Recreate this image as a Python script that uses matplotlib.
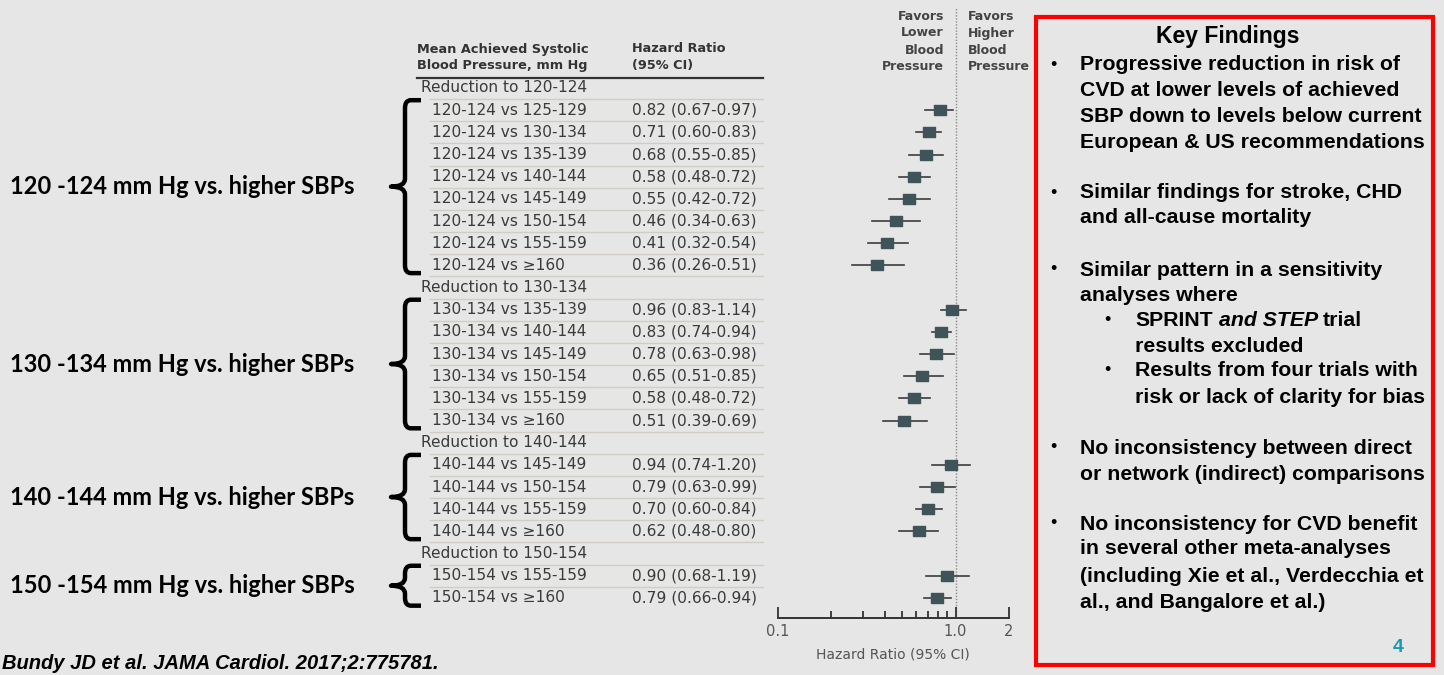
import matplotlib
matplotlib.use('Agg')
import matplotlib.pyplot as plt
import matplotlib.transforms as mtransforms
from matplotlib.lines import Line2D
from matplotlib.path import Path
from matplotlib.patches import PathPatch, Rectangle

# data
groups = ["120-124", "130-134", "140-144", "150-154"]
group_labels = ["120 -124 mm Hg vs. higher SBPs", "130 -134 mm Hg vs. higher SBPs",
                "140 -144 mm Hg vs. higher SBPs", "150 -154 mm Hg vs. higher SBPs"]
comparators = [
    ["125-129", "130-134", "135-139", "140-144", "145-149", "150-154", "155-159", "≥160"],
    ["135-139", "140-144", "145-149", "150-154", "155-159", "≥160"],
    ["145-149", "150-154", "155-159", "≥160"],
    ["155-159", "≥160"],
]
hr = [[0.82, 0.71, 0.68, 0.58, 0.55, 0.46, 0.41, 0.36],
      [0.96, 0.83, 0.78, 0.65, 0.58, 0.51],
      [0.94, 0.79, 0.70, 0.62],
      [0.90, 0.79]]
lo = [[0.67, 0.60, 0.55, 0.48, 0.42, 0.34, 0.32, 0.26],
      [0.83, 0.74, 0.63, 0.51, 0.48, 0.39],
      [0.74, 0.63, 0.60, 0.48],
      [0.68, 0.66]]
hi = [[0.97, 0.83, 0.85, 0.72, 0.72, 0.63, 0.54, 0.51],
      [1.14, 0.94, 0.98, 0.85, 0.72, 0.69],
      [1.20, 0.99, 0.84, 0.80],
      [1.19, 0.94]]
xticks = [0.1, 1.0, 2]
xticklabels = ["0.1", "1.0", "2"]

favors_left = ["Favors", "Lower", "Blood", "Pressure"]
favors_right = ["Favors", "Higher", "Blood", "Pressure"]

key_title = "Key Findings"
bullets = [
    ["Progressive reduction in risk of", "CVD at lower levels of achieved",
     "SBP down to levels below current", "European & US recommendations"],
    ["Similar findings for stroke, CHD", "and all-cause mortality"],
    ["Similar pattern in a sensitivity", "analyses where"],
    ["No inconsistency between direct", "or network (indirect) comparisons"],
    ["No inconsistency for CVD benefit", "in several other meta-analyses",
     "(including Xie et al., Verdecchia et", "al., and Bangalore et al.)"],
]
bullet_y = [[65, 90, 116, 142], [193, 218], [270, 295], [448, 474], [524, 549, 576, 602]]
sub_bullets = [["SPRINT  and STEP trial", "results excluded"],
               ["Results from four trials with", "risk or lack of clarity for bias"]]
sub_y = [[321, 346], [371, 397]]
citation = "Bundy JD et al. JAMA Cardiol. 2017;2:775781."

W, H = 1444, 675
BG = '#e6e6e6'
fig = plt.figure(figsize=(W / 100, H / 100), dpi=100, facecolor=BG)


def fx(p):
    return p / W


def fy(p):
    return 1 - p / H


ROW0, ROWH = 88, 22.17
ax = fig.add_axes([fx(778), fy(618), fx(1009) - fx(778), (618 - 8) / H])
ax.set_facecolor('none')
ax.set_xscale('log')
ax.set_xlim(0.1, 2)
ax.set_ylim((618 - ROW0) / ROWH, (8 - ROW0) / ROWH)
tr = mtransforms.blended_transform_factory(fig.transFigure, ax.transData)

tab_font = ['DejaVu Sans']
txt_col = '#3a3a3a'
tfs = 11.1

# build the table rows
rows = []
for gi, g in enumerate(groups):
    rows.append(('head', 'Reduction to ' + g, None, None, None))
    for j, c in enumerate(comparators[gi]):
        rows.append(('row', f'{g} vs {c}', hr[gi][j], lo[gi][j], hi[gi][j]))

box = Path([(-1, -0.75), (1, -0.75), (1, 0.75), (-1, 0.75), (-1, -0.75)])
for i, (kind, label, h, l, u) in enumerate(rows):
    if kind == 'head':
        fig.text(fx(421), i, label, transform=tr, va='center', ha='left',
                 fontsize=tfs, family=tab_font, color=txt_col)
    else:
        fig.text(fx(432), i, label, transform=tr, va='center', ha='left',
                 fontsize=tfs, family=tab_font, color=txt_col)
        fig.text(fx(632), i, f'{h:.2f} ({l:.2f}-{u:.2f})', transform=tr, va='center',
                 ha='left', fontsize=tfs, family=tab_font, color=txt_col)
        ax.plot([l, u], [i, i], color='#3c3c3c', lw=1.2, zorder=2)
        ax.plot([h], [i], marker=box, markersize=8.8, color='#3e5458', zorder=3)
    if i < len(rows) - 1:
        fig.add_artist(Line2D([fx(430), fx(763)], [i + 0.5, i + 0.5], transform=tr,
                              color='#d2cdc2', lw=1.0))

# header
hfs = 9.3
fig.add_artist(Line2D([fx(417), fx(763)], [-0.45, -0.45], transform=tr, color='#333333', lw=1.6))
fig.text(fx(417), fy(49), "Mean Achieved Systolic", fontsize=hfs, family=tab_font,
         weight='bold', color='#333333', va='center')
fig.text(fx(417), fy(66), "Blood Pressure, mm Hg", fontsize=hfs, family=tab_font,
         weight='bold', color='#333333', va='center')
fig.text(fx(632), fy(49), "Hazard Ratio", fontsize=hfs, family=tab_font,
         weight='bold', color='#333333', va='center')
fig.text(fx(632), fy(66), "(95% CI)", fontsize=hfs, family=tab_font,
         weight='bold', color='#333333', va='center')

for k, (a, b) in enumerate(zip(favors_left, favors_right)):
    yy = fy(16 + 17 * k)
    fig.text(fx(944), yy, a, ha='right', va='center', fontsize=9, family=tab_font,
             weight='bold', color='#444444')
    fig.text(fx(968), yy, b, ha='left', va='center', fontsize=9, family=tab_font,
             weight='bold', color='#444444')

# forest axis
ax.axvline(1.0, color='#8a8a8a', lw=1.0, ls=(0, (1, 1.2)), zorder=1)
for s in ['top', 'left', 'right']:
    ax.spines[s].set_visible(False)
ax.spines['bottom'].set_color('#333333')
ax.spines['bottom'].set_linewidth(1.4)
ax.set_yticks([])
ax.set_xticks(xticks)
ax.set_xticklabels(xticklabels)
ax.set_xticks([0.2, 0.3, 0.4, 0.5, 0.6, 0.7, 0.8, 0.9], minor=True)
ax.xaxis.set_minor_formatter(matplotlib.ticker.NullFormatter())
ax.tick_params(axis='x', which='major', direction='in', length=8, width=1.3,
               color='#333333', labelsize=10.5, labelcolor='#555555', pad=4)
ax.tick_params(axis='x', which='minor', direction='in', length=5, width=1.3, color='#333333')
for t in ax.get_xticklabels():
    t.set_family(tab_font)
fig.text(fx(893), fy(655), "Hazard Ratio (95% CI)", ha='center', va='center',
         fontsize=10, family=tab_font, color='#555555')


# brackets
def bracket(y0, y1, xm=405, xh=421, xt=391):
    ym = (y0 + y1) / 2
    d = 0.35
    r = 6
    verts = [(fx(xh), y0), (fx(xm + r), y0), (fx(xm), y0), (fx(xm), y0 + d),
             (fx(xm), ym - d), (fx(xm), ym), (fx(xt), ym),
             (fx(xm), ym), (fx(xm), ym + d),
             (fx(xm), y1 - d), (fx(xm), y1), (fx(xm + r), y1), (fx(xh), y1)]
    codes = [Path.MOVETO, Path.LINETO, Path.CURVE3, Path.CURVE3,
             Path.LINETO, Path.CURVE3, Path.CURVE3,
             Path.CURVE3, Path.CURVE3,
             Path.LINETO, Path.CURVE3, Path.CURVE3, Path.LINETO]
    fig.add_artist(PathPatch(Path(verts, codes), transform=tr, fill=False,
                             ec='black', lw=3.2, capstyle='butt', joinstyle='round'))
    return ym


start = 0
for gi in range(len(groups)):
    first = start + 1
    last = start + len(comparators[gi])
    ym = bracket(first - 0.45, last + 0.35)
    fig.text(fx(10), ym, group_labels[gi], transform=tr, ha='left', va='center',
             fontsize=17, family=['Lato', 'DejaVu Sans'], weight='bold', color='black')
    start = last + 1

# key findings box
fig.add_artist(Rectangle((fx(1036), fy(665)), fx(1433) - fx(1036), (665 - 17) / H,
                         transform=fig.transFigure, fill=False, ec='#ff0000', lw=3))
kf = ['Liberation Sans', 'DejaVu Sans']
fs = 15.3
fig.text(fx(1228), fy(37), key_title, ha='center', va='center', fontsize=16.5, family=kf,
         weight='bold')
for lines, ys in zip(bullets, bullet_y):
    fig.text(fx(1050), fy(ys[0]), '•', ha='left', va='center', fontsize=13, family=kf)
    for line, yy in zip(lines, ys):
        fig.text(fx(1080), fy(yy), line, ha='left', va='center', fontsize=fs, family=kf,
                 weight='bold')
for lines, ys in zip(sub_bullets, sub_y):
    fig.text(fx(1104), fy(ys[0]), '•', ha='left', va='center', fontsize=13, family=kf)
    for line, yy in zip(lines, ys):
        if 'and STEP' in line:
            fig.text(fx(1135), fy(yy), 'SPRINT', ha='left', va='center', fontsize=fs,
                     family=kf, weight='bold')
            fig.text(fx(1219), fy(yy), 'and STEP', ha='left', va='center', fontsize=fs,
                     family=kf, weight='bold', style='italic')
            fig.text(fx(1323), fy(yy), 'trial', ha='left', va='center', fontsize=fs,
                     family=kf, weight='bold')
        else:
            fig.text(fx(1135), fy(yy), line, ha='left', va='center', fontsize=fs,
                     family=kf, weight='bold')
fig.text(fx(1398), fy(647), '4', ha='center', va='center', fontsize=14, family=kf,
         weight='bold', color='#1a9aad')

fig.text(fx(2), fy(669), citation, ha='left', va='baseline', fontsize=14.5, family=kf,
         weight='bold', style='italic')

fig.savefig('out.png', dpi=100, facecolor=BG)
